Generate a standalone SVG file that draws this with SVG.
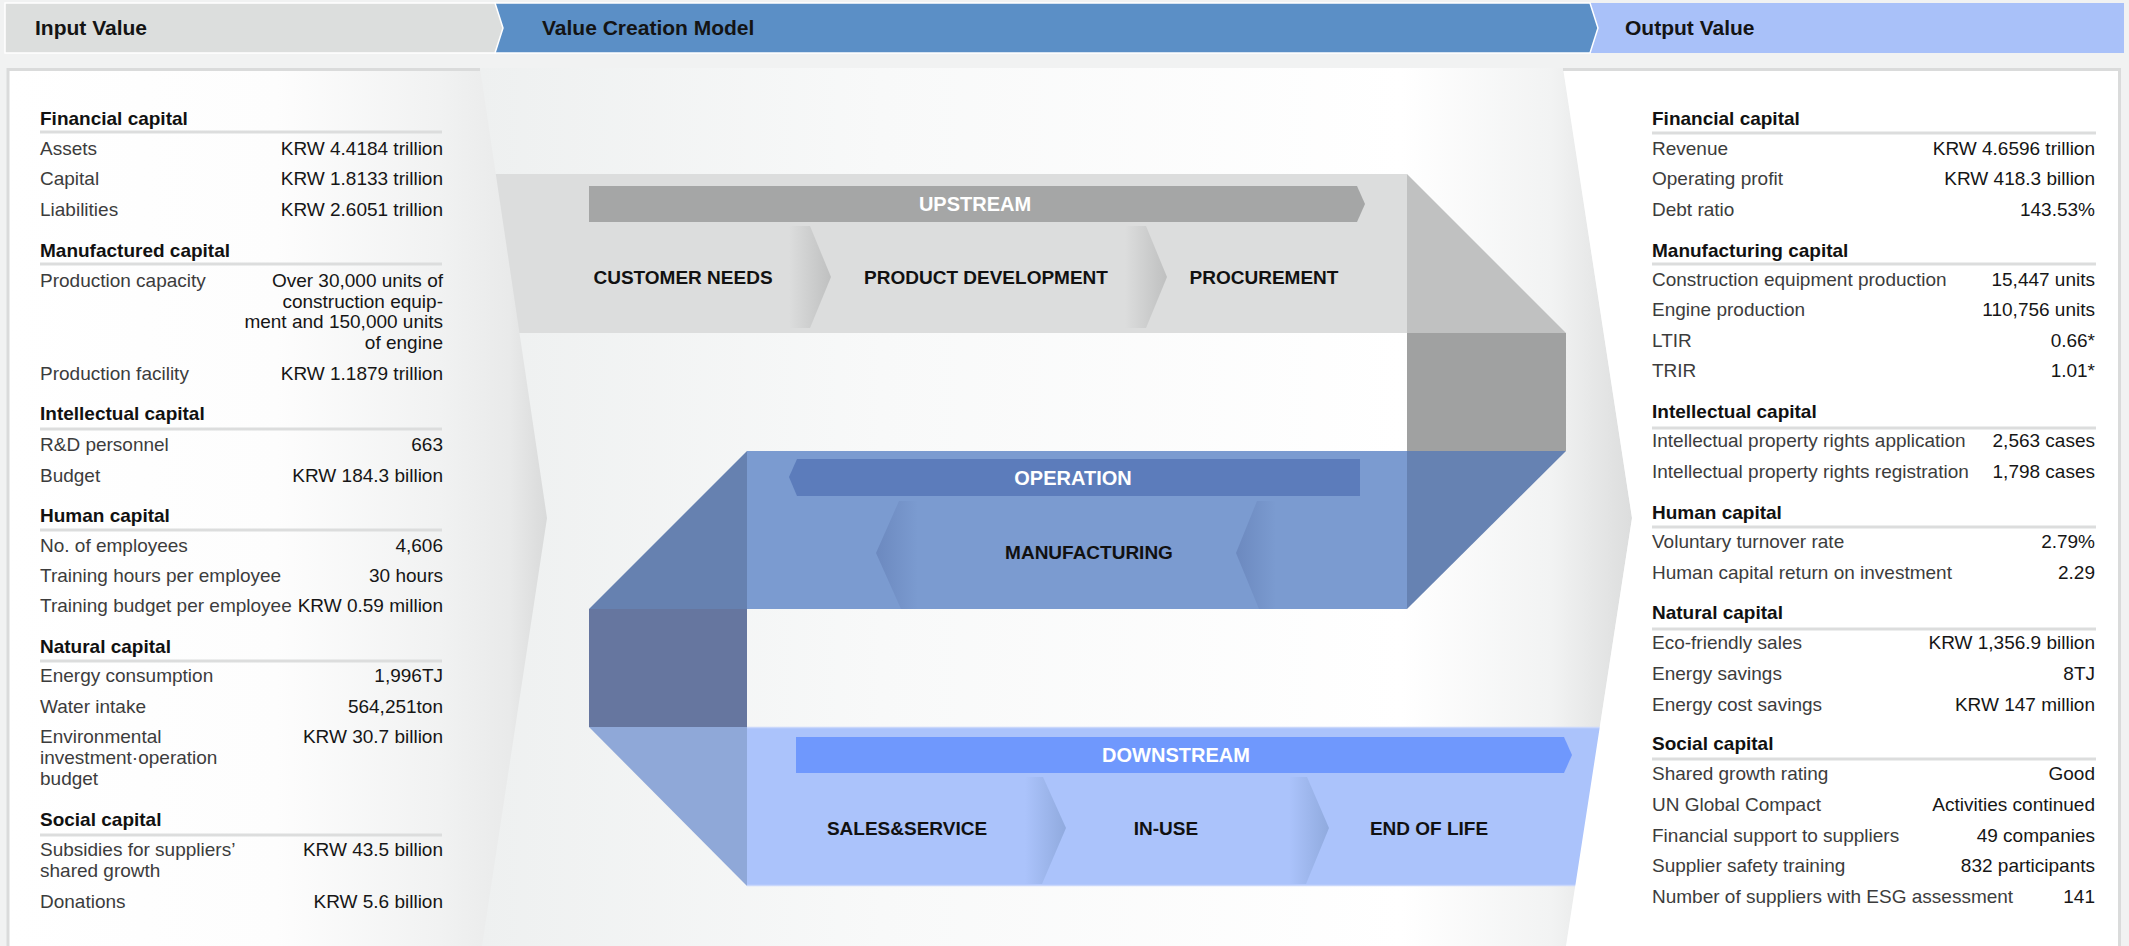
<svg xmlns="http://www.w3.org/2000/svg" width="2129" height="946" viewBox="0 0 2129 946">
<defs>
<linearGradient id="gLeft" gradientUnits="userSpaceOnUse" x1="7" y1="0" x2="547" y2="0">
<stop offset="0" stop-color="#ffffff"/><stop offset="0.5" stop-color="#fdfdfd"/><stop offset="0.8" stop-color="#f1f2f2"/><stop offset="0.93" stop-color="#e9eaea"/><stop offset="1" stop-color="#d9dada"/>
</linearGradient>
<linearGradient id="gMid" gradientUnits="userSpaceOnUse" x1="480" y1="0" x2="1632" y2="0">
<stop offset="0" stop-color="#eef0f0"/><stop offset="0.35" stop-color="#f8f9f9"/><stop offset="0.8" stop-color="#ffffff"/><stop offset="0.93" stop-color="#f2f3f3"/><stop offset="1" stop-color="#dcdddd"/>
</linearGradient>
<linearGradient id="gUpSep" x1="0" y1="0" x2="1" y2="0">
<stop offset="0" stop-color="#dcdddd"/><stop offset="1" stop-color="#bfc0c0"/>
</linearGradient>
<linearGradient id="gOpSep" x1="0" y1="0" x2="1" y2="0">
<stop offset="0" stop-color="#6c89bf"/><stop offset="1" stop-color="#7b9bd0"/>
</linearGradient>
<linearGradient id="gDnSep" x1="0" y1="0" x2="1" y2="0">
<stop offset="0" stop-color="#abc3fb"/><stop offset="1" stop-color="#90aade"/>
</linearGradient>
<style>
.hdr{font-family:"Liberation Sans",Arial,sans-serif;font-size:21px;font-weight:bold;fill:#141414}
.h{font-family:"Liberation Sans",Arial,sans-serif;font-size:19px;font-weight:bold;fill:#111}
.l{font-family:"Liberation Sans",Arial,sans-serif;font-size:19px;fill:#3c3c3c}
.v{font-family:"Liberation Sans",Arial,sans-serif;font-size:19px;fill:#161616;text-anchor:end}
.rule{stroke:#dcdddd;stroke-width:3}
.bar{font-family:"Liberation Sans",Arial,sans-serif;font-size:20px;font-weight:bold;fill:#ffffff;text-anchor:middle}
.stg{font-family:"Liberation Sans",Arial,sans-serif;font-size:19px;font-weight:bold;fill:#111;text-anchor:middle}
</style>
</defs>
<rect x="0" y="0" width="2129" height="946" fill="#f1f2f2"/>

<g id="header">
<rect x="1590" y="3" width="534" height="50" fill="#a9c1f9"/>
<polygon points="495,3 1590,3 1598,28 1590,53 495,53" fill="#5b8fc6" stroke="#ffffff" stroke-width="1.5"/>
<polygon points="5,3 495,3 503,28 495,53 5,53" fill="#dcdedd" stroke="#ffffff" stroke-width="1.5"/>
<text class="hdr" x="35" y="35">Input Value</text>
<text class="hdr" x="542" y="35">Value Creation Model</text>
<text class="hdr" x="1625" y="35">Output Value</text>
</g>

<g id="middle-panel">
<polygon points="470,68 1563,68 1632,518 1566,946 470,946" fill="url(#gMid)"/>
</g>

<g id="connectors">
<polygon points="1407,174 1566,333 1407,333" fill="#c0c1c1"/>
<rect x="1407" y="333" width="159" height="118" fill="#a0a1a1"/>
<polygon points="1407,451 1566,451 1407,609" fill="#6682b2"/>
<polygon points="747,451 747,609 589,609" fill="#6681b0"/>
<rect x="589" y="609" width="158" height="118" fill="#66769f"/>
<polygon points="589,727 747,727 747,886" fill="#8fa8d8"/>
</g>

<g id="upstream">
<rect x="480" y="174" width="927" height="159" fill="#dcdddd"/>
<polygon points="589,186 1357,186 1365,204 1357,222 589,222" fill="#a5a6a6"/>
<text class="bar" x="975" y="211">UPSTREAM</text>
<polygon points="789,226 810,226 831,277 810,328 789,328" fill="url(#gUpSep)"/>
<polygon points="1125,226 1146,226 1167,277 1146,328 1125,328" fill="url(#gUpSep)"/>
<text class="stg" x="683" y="284">CUSTOMER NEEDS</text>
<text class="stg" x="986" y="284">PRODUCT DEVELOPMENT</text>
<text class="stg" x="1264" y="284">PROCUREMENT</text>
</g>

<g id="operation">
<rect x="747" y="451" width="660" height="158" fill="#7b9bd0"/>
<polygon points="797,459 1360,459 1360,496 797,496 789,477" fill="#5c7cbb"/>
<text class="bar" x="1073" y="485">OPERATION</text>
<polygon points="899,501 918,501 918,609 901,609 876,553" fill="url(#gOpSep)"/>
<polygon points="1257,501 1276,501 1276,609 1259,609 1236,553" fill="url(#gOpSep)"/>
<text class="stg" x="1089" y="559">MANUFACTURING</text>
</g>

<g id="downstream">
<rect x="747" y="727" width="880" height="159" fill="#abc3fb"/>
<line x1="747" y1="727.5" x2="1627" y2="727.5" stroke="#c9d7fb" stroke-width="1.5"/>
<line x1="747" y1="885.5" x2="1627" y2="885.5" stroke="#c9d7fb" stroke-width="1.5"/>
<polygon points="796,737 1564,737 1572,755 1564,773 796,773" fill="#6f98fd"/>
<text class="bar" x="1176" y="762">DOWNSTREAM</text>
<polygon points="1025,777 1043,777 1066,828 1042,884 1025,884" fill="url(#gDnSep)"/>
<polygon points="1289,777 1307,777 1329,828 1306,884 1289,884" fill="url(#gDnSep)"/>
<text class="stg" x="907" y="835">SALES&amp;SERVICE</text>
<text class="stg" x="1166" y="835">IN-USE</text>
<text class="stg" x="1429" y="835">END OF LIFE</text>
</g>

<g id="input-panel">
<polygon points="7,68 480,68 547,518 482,946 7,946" fill="url(#gLeft)"/>
<line x1="7" y1="69.5" x2="480" y2="69.5" stroke="#dadbdb" stroke-width="3"/>
<line x1="8" y1="68" x2="8" y2="946" stroke="#dadbdb" stroke-width="3"/>
<text class="h" x="40" y="125">Financial capital</text>
<line class="rule" x1="40" y1="132" x2="442" y2="132"/>
<text class="l" x="40" y="155">Assets</text><text class="v" x="443" y="155">KRW 4.4184 trillion</text>
<text class="l" x="40" y="185">Capital</text><text class="v" x="443" y="185">KRW 1.8133 trillion</text>
<text class="l" x="40" y="216">Liabilities</text><text class="v" x="443" y="216">KRW 2.6051 trillion</text>
<text class="h" x="40" y="257">Manufactured capital</text>
<line class="rule" x1="40" y1="264" x2="442" y2="264"/>
<text class="l" x="40" y="287">Production capacity</text>
<text class="v" x="443" y="287">Over 30,000 units of</text>
<text class="v" x="443" y="308">construction equip-</text>
<text class="v" x="443" y="328">ment and 150,000 units</text>
<text class="v" x="443" y="349">of engine</text>
<text class="l" x="40" y="380">Production facility</text><text class="v" x="443" y="380">KRW 1.1879 trillion</text>
<text class="h" x="40" y="420">Intellectual capital</text>
<line class="rule" x1="40" y1="429" x2="442" y2="429"/>
<text class="l" x="40" y="451">R&amp;D personnel</text><text class="v" x="443" y="451">663</text>
<text class="l" x="40" y="482">Budget</text><text class="v" x="443" y="482">KRW 184.3 billion</text>
<text class="h" x="40" y="522">Human capital</text>
<line class="rule" x1="40" y1="530" x2="442" y2="530"/>
<text class="l" x="40" y="552">No. of employees</text><text class="v" x="443" y="552">4,606</text>
<text class="l" x="40" y="582">Training hours per employee</text><text class="v" x="443" y="582">30 hours</text>
<text class="l" x="40" y="612">Training budget per employee</text><text class="v" x="443" y="612">KRW 0.59 million</text>
<text class="h" x="40" y="653">Natural capital</text>
<line class="rule" x1="40" y1="661" x2="442" y2="661"/>
<text class="l" x="40" y="682">Energy consumption</text><text class="v" x="443" y="682">1,996TJ</text>
<text class="l" x="40" y="713">Water intake</text><text class="v" x="443" y="713">564,251ton</text>
<text class="l" x="40" y="743">Environmental</text>
<text class="l" x="40" y="764">investment·operation</text>
<text class="l" x="40" y="785">budget</text>
<text class="v" x="443" y="743">KRW 30.7 billion</text>
<text class="h" x="40" y="826">Social capital</text>
<line class="rule" x1="40" y1="835" x2="442" y2="835"/>
<text class="l" x="40" y="856">Subsidies for suppliers’</text>
<text class="l" x="40" y="877">shared growth</text>
<text class="v" x="443" y="856">KRW 43.5 billion</text>
<text class="l" x="40" y="908">Donations</text><text class="v" x="443" y="908">KRW 5.6 billion</text>
</g>

<g id="output-panel">
<polygon points="1563,68 2120,68 2120,946 1566,946 1632,518" fill="#ffffff"/>
<line x1="1563" y1="69.5" x2="2120" y2="69.5" stroke="#dadbdb" stroke-width="3"/>
<line x1="2119.5" y1="68" x2="2119.5" y2="946" stroke="#dadbdb" stroke-width="3"/>
<text class="h" x="1652" y="125">Financial capital</text>
<line class="rule" x1="1652" y1="133" x2="2096" y2="133"/>
<text class="l" x="1652" y="155">Revenue</text><text class="v" x="2095" y="155">KRW 4.6596 trillion</text>
<text class="l" x="1652" y="185">Operating profit</text><text class="v" x="2095" y="185">KRW 418.3 billion</text>
<text class="l" x="1652" y="216">Debt ratio</text><text class="v" x="2095" y="216">143.53%</text>
<text class="h" x="1652" y="257">Manufacturing capital</text>
<line class="rule" x1="1652" y1="264" x2="2096" y2="264"/>
<text class="l" x="1652" y="286">Construction equipment production</text><text class="v" x="2095" y="286">15,447 units</text>
<text class="l" x="1652" y="316">Engine production</text><text class="v" x="2095" y="316">110,756 units</text>
<text class="l" x="1652" y="347">LTIR</text><text class="v" x="2095" y="347">0.66*</text>
<text class="l" x="1652" y="377">TRIR</text><text class="v" x="2095" y="377">1.01*</text>
<text class="h" x="1652" y="418">Intellectual capital</text>
<line class="rule" x1="1652" y1="428" x2="2096" y2="428"/>
<text class="l" x="1652" y="447">Intellectual property rights application</text><text class="v" x="2095" y="447">2,563 cases</text>
<text class="l" x="1652" y="478">Intellectual property rights registration</text><text class="v" x="2095" y="478">1,798 cases</text>
<text class="h" x="1652" y="519">Human capital</text>
<line class="rule" x1="1652" y1="527" x2="2096" y2="527"/>
<text class="l" x="1652" y="548">Voluntary turnover rate</text><text class="v" x="2095" y="548">2.79%</text>
<text class="l" x="1652" y="579">Human capital return on investment</text><text class="v" x="2095" y="579">2.29</text>
<text class="h" x="1652" y="619">Natural capital</text>
<line class="rule" x1="1652" y1="629" x2="2096" y2="629"/>
<text class="l" x="1652" y="649">Eco-friendly sales</text><text class="v" x="2095" y="649">KRW 1,356.9 billion</text>
<text class="l" x="1652" y="680">Energy savings</text><text class="v" x="2095" y="680">8TJ</text>
<text class="l" x="1652" y="711">Energy cost savings</text><text class="v" x="2095" y="711">KRW 147 million</text>
<text class="h" x="1652" y="750">Social capital</text>
<line class="rule" x1="1652" y1="759" x2="2096" y2="759"/>
<text class="l" x="1652" y="780">Shared growth rating</text><text class="v" x="2095" y="780">Good</text>
<text class="l" x="1652" y="811">UN Global Compact</text><text class="v" x="2095" y="811">Activities continued</text>
<text class="l" x="1652" y="842">Financial support to suppliers</text><text class="v" x="2095" y="842">49 companies</text>
<text class="l" x="1652" y="872">Supplier safety training</text><text class="v" x="2095" y="872">832 participants</text>
<text class="l" x="1652" y="903">Number of suppliers with ESG assessment</text><text class="v" x="2095" y="903">141</text>
</g>
</svg>
